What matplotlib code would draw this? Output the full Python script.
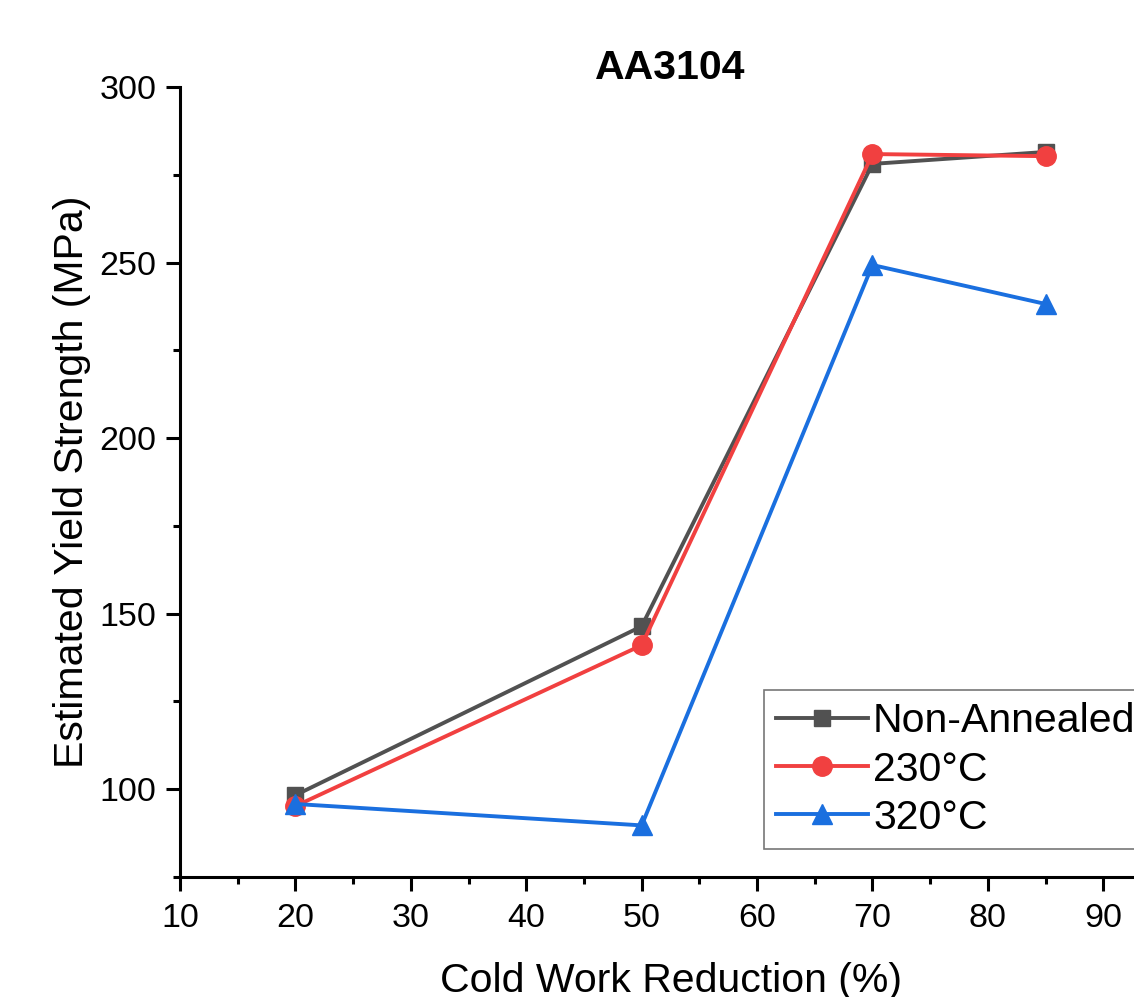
import matplotlib.pyplot as plt
from matplotlib.ticker import MultipleLocator

plt.rcParams['font.family'] = ['Liberation Sans', 'DejaVu Sans']

# data
reduction = [20, 50, 70, 85]
non_annealed = [98.3, 146.4, 278.1, 281.5]
annealed_230 = [95.2, 141.0, 280.9, 280.3]
annealed_320 = [95.8, 89.7, 249.3, 238.2]

series_names = ["Non-Annealed", "230°C", "320°C"]
colors = ["#515151", "#F14040", "#1A6FDF"]
markers = ["s", "o", "^"]
msizes = [12, 14, 15]

fig = plt.figure(figsize=(11.34, 9.97), dpi=100)
# axes run past the right edge of the figure, as in the cropped original
ax = fig.add_axes([180 / 1134, 120 / 997, 981 / 1134, 790 / 997])

for vals, name, c, m, ms in zip([non_annealed, annealed_230, annealed_320],
                                series_names, colors, markers, msizes):
    ax.plot(reduction, vals, color=c, marker=m, markersize=ms, linewidth=2.8,
            label=name, clip_on=False)

ax.set_xlim(10, 95)
ax.set_ylim(75, 300)
ax.xaxis.set_major_locator(MultipleLocator(10))
ax.xaxis.set_minor_locator(MultipleLocator(5))
ax.yaxis.set_major_locator(MultipleLocator(50))
ax.yaxis.set_minor_locator(MultipleLocator(25))
ax.set_xticks(range(10, 91, 10))

ax.spines['top'].set_visible(False)
ax.spines['right'].set_visible(False)
for s in ['left', 'bottom']:
    ax.spines[s].set_linewidth(2.2)
ax.tick_params(which='major', direction='out', length=10, width=2.2,
               labelsize=24.5, pad=7)
ax.tick_params(axis='x', which='major', pad=9)
ax.tick_params(which='minor', direction='out', length=5, width=2.2)

ax.set_xlabel("Cold Work Reduction (%)", fontsize=29.5, labelpad=20)
ax.set_ylabel("Estimated Yield Strength (MPa)", fontsize=29.5, labelpad=6)
ax.set_title("AA3104", fontsize=29.5, fontweight='bold', pad=6)

leg = ax.legend(loc='upper left', bbox_to_anchor=(0.595, 0.2367),
                borderaxespad=0, fontsize=29.5, frameon=True, fancybox=False,
                edgecolor='#777777', framealpha=1, handlelength=2.25,
                handletextpad=0.12, labelspacing=0.25, borderpad=0.3)
leg.get_frame().set_linewidth(1.2)

fig.savefig("out.png", dpi=100)
